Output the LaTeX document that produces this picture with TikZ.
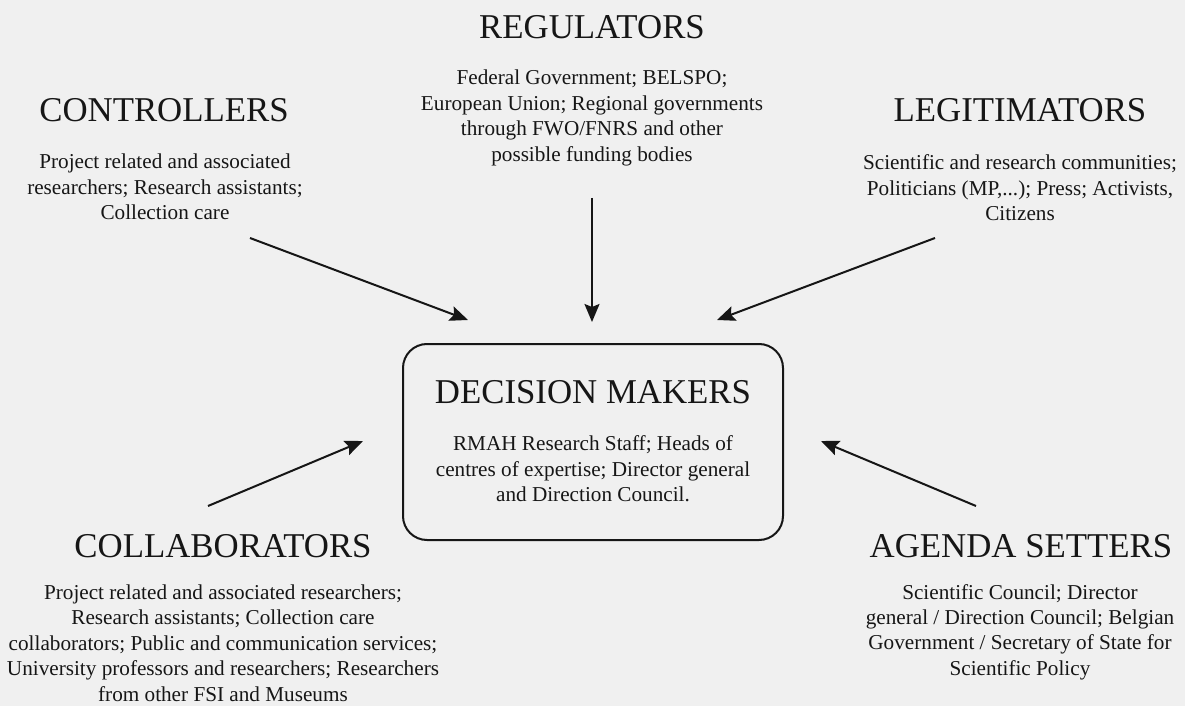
\documentclass[tikz,border=0pt]{standalone}
\usepackage{fontspec}
\setmainfont{Liberation Serif}
\usetikzlibrary{arrows.meta}
\definecolor{sfondo}{HTML}{F0F0F0}
\definecolor{testo}{HTML}{161616}

\begin{document}
\begin{tikzpicture}[x=0.5pt, y=-0.5pt,
    titolo/.style={text=testo, inner sep=0pt, font=\fontsize{17.4}{20}\selectfont},
    corpo/.style={text=testo, inner sep=0pt, align=center, font=\fontsize{10.6}{12.7}\selectfont},
    freccia/.style={draw=testo, line width=1pt, -{Stealth[length=9pt, width=7.5pt, inset=1.5pt]}}]
    \fill[sfondo](0,0) rectangle (1185,706);
    \useasboundingbox (0,0) rectangle (1185,706);

    \node[draw=testo, line width=1pt, rounded corners=12pt, minimum width=190pt, minimum height=98pt] (dm) at (593,442) {};
    \node[titolo] (dmT) at (593,392) {DECISION MAKERS};
    \node[corpo] (dmC) at (593,469) {RMAH Research Staff; Heads of\\centres of expertise; Director general\\and Direction Council.};

    \node[titolo] (regT) at (592,27) {REGULATORS};
    \node[corpo] (regC) at (592,118) {Federal Government; BELSPO;\\European Union; Regional governments\\through FWO/FNRS and other\\possible funding bodies};

    \node[titolo] (ctrlT) at (164,110) {CONTROLLERS};
    \node[corpo] (ctrlC) at (165,187) {Project related and associated\\researchers; Research assistants;\\Collection care};

    \node[titolo] (legT) at (1020,110) {LEGITIMATORS};
    \node[corpo] (legC) at (1020,188) {Scientific and research communities;\\Politicians (MP,...); Press; Activists,\\Citizens};

    \node[titolo] (colT) at (223,546) {COLLABORATORS};
    \node[corpo] (colC) at (223,643) {Project related and associated researchers;\\Research assistants; Collection care\\collaborators; Public and communication services;\\University professors and researchers; Researchers\\from other FSI and Museums};

    \node[titolo] (agT) at (1021,546) {AGENDA SETTERS};
    \node[corpo] (agC) at (1020,632) {Scientific Council; Director\\general / Direction Council; Belgian\\Government / Secretary of State for\\Scientific Policy};

    \coordinate (ctrlA) at (250,238);
    \coordinate (ctrlB) at (468,320);
    \coordinate (regA) at (592,198);
    \coordinate (regB) at (592,322);
    \coordinate (legA) at (935,238);
    \coordinate (legB) at (717,320);
    \coordinate (colA) at (208,506);
    \coordinate (colB) at (363,441);
    \coordinate (agA) at (976,506);
    \coordinate (agB) at (821,441);
    \draw[freccia](ctrlA)--(ctrlB);
    \draw[freccia](regA)--(regB);
    \draw[freccia](legA)--(legB);
    \draw[freccia](colA)--(colB);
    \draw[freccia](agA)--(agB);
\end{tikzpicture}
\end{document}
